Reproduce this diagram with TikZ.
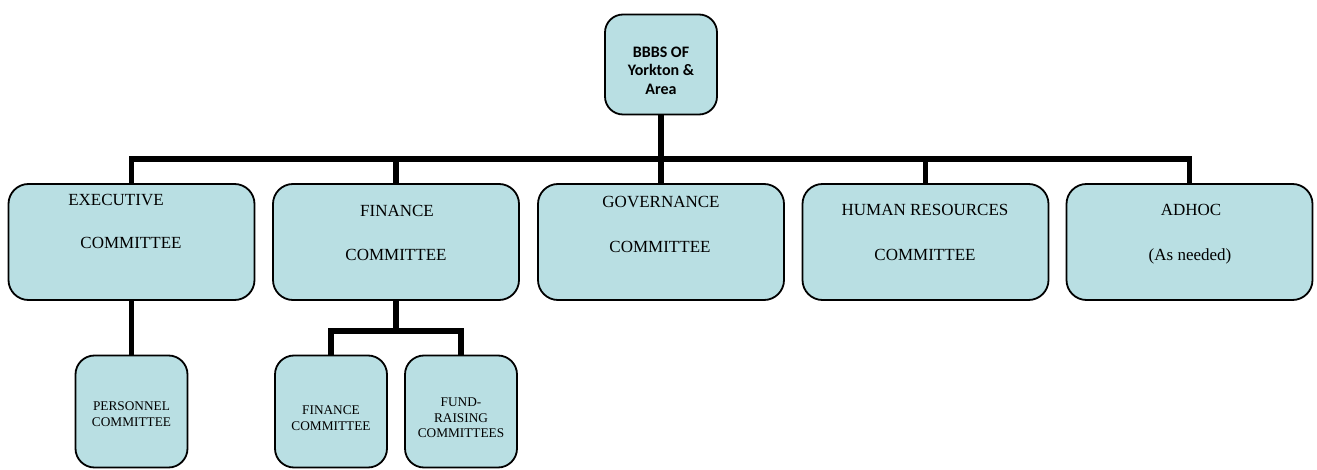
\documentclass[tikz,border=0pt]{standalone}
\usepackage{fontspec}
\setmainfont{Liberation Serif}
\newfontfamily\calib{Carlito}
\definecolor{boxfill}{RGB}{185,223,227}
\begin{document}
\begin{tikzpicture}[x=1pt,y=-1pt,
  box/.style={draw=black, line width=1.8pt, fill=boxfill, inner sep=0pt},
  bigbox/.style={box, rounded corners=20pt, minimum width=246pt, minimum height=116pt},
  subbox/.style={box, rounded corners=19pt, minimum width=112pt, minimum height=112pt},
  conn/.style={line width=5.5pt, line join=miter},
  lbl/.style={font=\fontsize{17}{20}\selectfont, inner sep=0pt, anchor=base},
  sml/.style={font=\fontsize{13.3}{15.5}\selectfont, align=center, inner sep=0pt},
  toptext/.style={font=\calib\bfseries\fontsize{16}{18.5}\selectfont, align=center, inner sep=0pt}]
\useasboundingbox (0,0) rectangle (1317,470);

% top box
\node[box, rounded corners=18pt, minimum width=112pt, minimum height=100pt] (top) at (661,64.5) {};
\node[toptext] (topT) at (661,70.5) {BBBS OF\\Yorkton \&\\Area};

% level 1 boxes
\node[bigbox] (exec)  at (131.5,242) {};
\node[bigbox] (fin)   at (396,242) {};
\node[bigbox] (gov)   at (661,242) {};
\node[bigbox] (hr)    at (925.5,242) {};
\node[bigbox] (adhoc) at (1189.5,242) {};

\node[lbl] (execA) at (116,206) {EXECUTIVE};
\node[lbl] (execB) at (131,249) {COMMITTEE};
\node[lbl] (finA)  at (397,217) {FINANCE};
\node[lbl] (finB)  at (396,261) {COMMITTEE};
\node[lbl] (govA)  at (661,208) {GOVERNANCE};
\node[lbl] (govB)  at (660,253) {COMMITTEE};
\node[lbl] (hrA)   at (925,216) {HUMAN RESOURCES};
\node[lbl] (hrB)   at (925,261) {COMMITTEE};
\node[lbl] (adA)   at (1191,216) {ADHOC};
\node[lbl] (adB)   at (1190,261) {(As needed)};

% level 2 boxes
\node[subbox] (pers)   at (131.5,411.5) {};
\node[subbox] (finsub) at (331,411.5) {};
\node[subbox] (fund)   at (461,411.5) {};

\node[sml] (persT)   at (131.5,414) {PERSONNEL\\COMMITTEE};
\node[sml] (finsubT) at (331,418) {FINANCE\\COMMITTEE};
\node[sml] (fundT)   at (461,418) {FUND-\\RAISING\\COMMITTEES};

% connectors
\coordinate (hub) at (661,159);
\draw[conn] (top.south) -- (hub);
\foreach \n in {exec,fin,gov,hr,adhoc}
  \draw[conn] (hub) -| (\n.north);

\draw[conn] (exec.south) -- (pers.north);

\coordinate (finhub) at (396,331);
\draw[conn] (fin.south) -- (finhub);
\draw[conn] (finhub) -| (finsub.north);
\draw[conn] (finhub) -| (fund.north);
\end{tikzpicture}
\end{document}
